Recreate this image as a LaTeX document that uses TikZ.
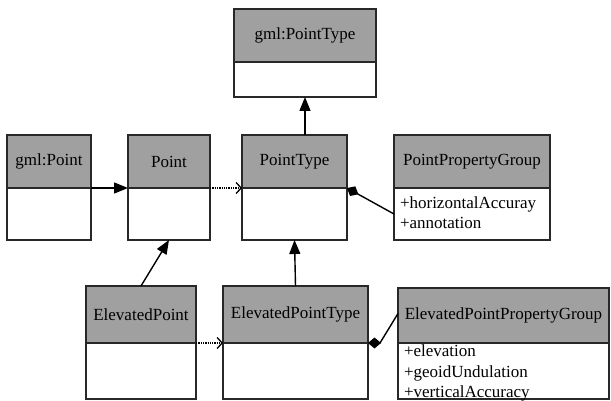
\documentclass[tikz,border=0pt]{standalone}
\usepackage{fontspec}
\setmainfont{Liberation Serif}
\usetikzlibrary{arrows.meta}
\definecolor{hdrgray}{RGB}{160,160,160}
\definecolor{edge}{RGB}{40,40,40}
\begin{document}
\begin{tikzpicture}[x=1pt,y=-1pt,
  every node/.style={inner sep=0pt,outer sep=0pt},
  hdr/.style={draw=edge,line width=1.4pt,fill=hdrgray,anchor=north west,
    font=\fontsize{17}{20}\selectfont},
  bodybox/.style={draw=edge,line width=1.4pt,fill=white,anchor=north west},
  attr/.style={anchor=base west,font=\fontsize{17}{20}\selectfont},
  inh/.style={line width=1.4pt,draw=black,-{Triangle[length=14pt,width=11pt]}},
  dep/.style={line width=1.3pt,densely dotted,-{Straight Barb[length=5pt,width=11pt]}},
  comp/.style={line width=1.4pt,{Diamond[length=13pt,width=11pt]}-}]
\useasboundingbox (0,0) rectangle (611,401);
\clip (0,0) rectangle (611,401);
\fill[white] (0,0) rectangle (611,401);
% gml:PointType
\node[hdr,minimum width=142pt,minimum height=53pt] (gptH) at (234,9) {gml:PointType};
\node[bodybox,minimum width=142pt,minimum height=35pt] (gptB) at (234,62) {};
% gml:Point
\node[hdr,minimum width=84pt,minimum height=53pt] (gpH) at (7,135) {gml:Point};
\node[bodybox,minimum width=84pt,minimum height=52pt] (gpB) at (7,188) {};
% Point
\node[hdr,minimum width=82pt,minimum height=53pt] (pH) at (128,135) {Point};
\node[bodybox,minimum width=82pt,minimum height=52pt] (pB) at (128,188) {};
% PointType
\node[hdr,minimum width=105pt,minimum height=53pt] (ptH) at (242,135) {PointType};
\node[bodybox,minimum width=105pt,minimum height=52pt] (ptB) at (242,188) {};
% PointPropertyGroup
\node[hdr,minimum width=156pt,minimum height=53pt] (ppgH) at (394,135) {PointPropertyGroup};
\node[bodybox,minimum width=156pt,minimum height=52pt] (ppgB) at (394,188) {};
\node[attr] (a1) at (400,209) {+horizontalAccuray};
\node[attr] (a2) at (400,229) {+annotation};
% ElevatedPoint
\node[hdr,minimum width=110pt,minimum height=57pt] (epH) at (86,286) {ElevatedPoint};
\node[bodybox,minimum width=110pt,minimum height=56pt] (epB) at (86,343) {};
% ElevatedPointType
\node[hdr,minimum width=145pt,minimum height=57pt] (eptH) at (223,286) {ElevatedPointType};
\node[bodybox,minimum width=145pt,minimum height=56pt] (eptB) at (223,343) {};
% ElevatedPointPropertyGroup
\node[hdr,minimum width=211pt,minimum height=55pt] (eppgH) at (398,288) {ElevatedPointPropertyGroup};
\node[bodybox,minimum width=211pt,minimum height=56pt] (eppgB) at (398,343) {};
\node[attr] (b1) at (404,356) {+elevation};
\node[attr] (b2) at (404,377) {+geoidUndulation};
\node[attr] (b3) at (404,397) {+verticalAccuracy};
% connectors
\draw[inh] (gptB.south |- ptH.north) -- (gptB.south);
\draw[inh] (gpB.north east) -- (pB.north west);
\draw[dep] (pB.north east) -- (ptB.north west);
\draw[comp] (ptB.north east) -- (ppgB.west);
\draw[inh] (epH.north) -- (pB.south);
\draw[inh] (eptH.north) -- (ptB.south);
\draw[dep] (epB.north east) -- (eptB.north west);
\draw[comp] (eptB.north east) -- ++(12,0) -- ([yshift=2pt]eppgH.west);
\end{tikzpicture}
\end{document}
